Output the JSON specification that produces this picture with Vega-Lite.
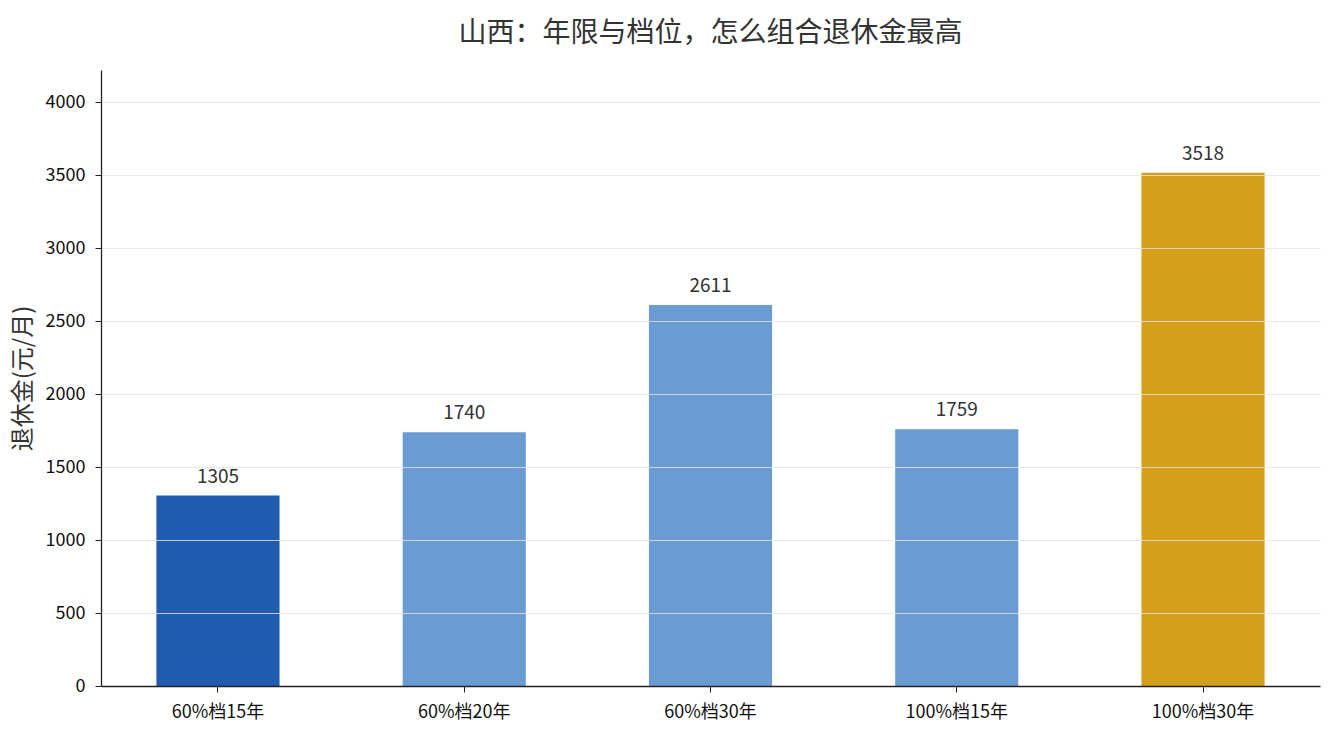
{
  "$schema": "https://vega.github.io/schema/vega-lite/v6.json",
  "width": 1219,
  "height": 616,
  "autosize": {"type": "none"},
  "padding": {"left": 101, "top": 70, "right": 15, "bottom": 49},
  "background": "white",
  "config": {
    "font": "Noto Sans CJK SC",
    "view": {"stroke": null},
    "axis": {"labelFont": "Noto Sans CJK SC", "titleFont": "Noto Sans CJK SC"}
  },
  "title": {
    "text": "山西：年限与档位，怎么组合退休金最高",
    "fontSize": 28,
    "fontWeight": "normal",
    "color": "#333333",
    "offset": 22,
    "anchor": "middle"
  },
  "data": {
    "values": [
      {"plan": "60%档15年", "pension": 1305, "group": "base"},
      {"plan": "60%档20年", "pension": 1740, "group": "mid"},
      {"plan": "60%档30年", "pension": 2611, "group": "mid"},
      {"plan": "100%档15年", "pension": 1759, "group": "mid"},
      {"plan": "100%档30年", "pension": 3518, "group": "top"}
    ]
  },
  "encoding": {
    "x": {
      "field": "plan",
      "type": "nominal",
      "sort": null,
      "scale": {"paddingInner": 0.5, "paddingOuter": 0.225},
      "axis": {
        "title": null,
        "labelAngle": 0,
        "labelFontSize": 18,
        "labelColor": "#111111",
        "labelPadding": 11,
        "tickSize": 6,
        "tickColor": "#222222",
        "domainColor": "#222222",
        "domainWidth": 1.3,
        "grid": false,
        "zindex": 2
      }
    },
    "y": {
      "field": "pension",
      "type": "quantitative",
      "scale": {"domain": [0, 4222], "nice": false},
      "axis": {
        "title": "退休金(元/月)",
        "titleFontSize": 24,
        "titleFontWeight": "normal",
        "titleColor": "#333333",
        "titlePadding": 10,
        "values": [0, 500, 1000, 1500, 2000, 2500, 3000, 3500, 4000],
        "format": "d",
        "labelFontSize": 18,
        "labelColor": "#111111",
        "labelPadding": 10,
        "tickSize": 6,
        "tickColor": "#222222",
        "domainColor": "#222222",
        "domainWidth": 1.3,
        "grid": true,
        "gridColor": "#e4e4e4",
        "gridOpacity": 0.8,
        "zindex": 1
      }
    }
  },
  "layer": [
    {
      "mark": {"type": "bar"},
      "encoding": {
        "color": {
          "field": "group",
          "type": "nominal",
          "scale": {"domain": ["base", "mid", "top"], "range": ["#1f5baf", "#6b9bd3", "#d4a01b"]},
          "legend": null
        }
      }
    },
    {
      "mark": {"type": "text", "baseline": "bottom", "dy": -9, "fontSize": 19, "color": "#333333"},
      "encoding": {
        "text": {"field": "pension", "type": "quantitative"}
      }
    }
  ]
}
